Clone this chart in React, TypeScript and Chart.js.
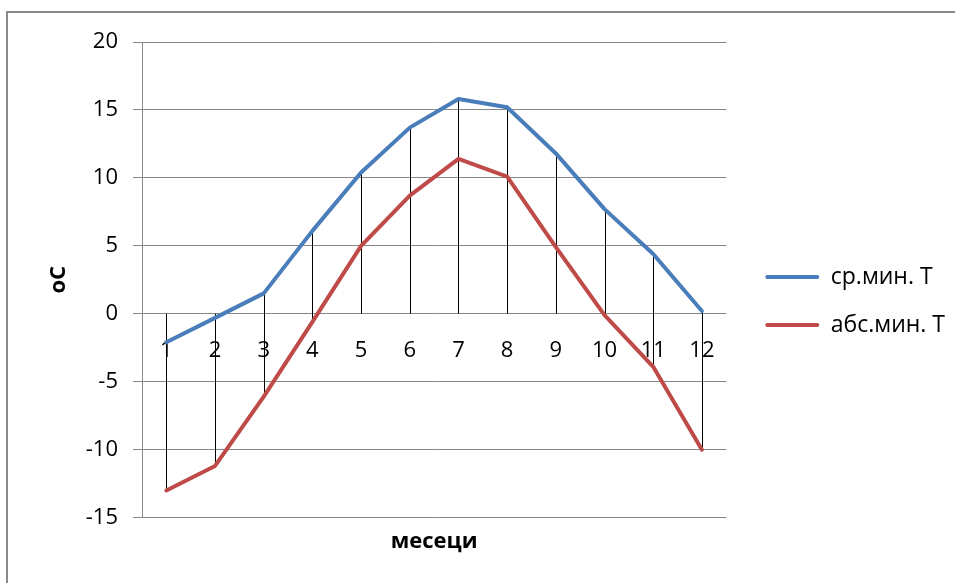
import React, { useEffect, useRef } from "react";
import { Chart, registerables } from "chart.js";

Chart.register(...registerables);

const months = ["1", "2", "3", "4", "5", "6", "7", "8", "9", "10", "11", "12"];
const avgMinT = [-2.1, -0.3, 1.5, 6.1, 10.4, 13.7, 15.8, 15.2, 11.8, 7.7, 4.4, 0.2];
const absMinT = [-13.0, -11.2, -6.1, -0.6, 5.0, 8.7, 11.4, 10.1, 4.9, -0.1, -3.9, -10.0];
const seriesNames = ["ср.мин. Т", "абс.мин. Т"];
const yTickMin = -15;
const yTickMax = 20;
const yTickStep = 5;
const yTitle = "оС";
const xTitle = "месеци";

const BLUE = "#4A7EBB";
const RED = "#BE4B48";
const GRID = "#868686";
const FONT = "'Open Sans', sans-serif";

const framePlugin = {
  id: "frame",
  beforeDraw(chart: any) {
    const ctx = chart.ctx;
    ctx.save();
    ctx.fillStyle = "#ffffff";
    ctx.fillRect(0, 0, chart.width, chart.height);
    ctx.strokeStyle = "#8a8a8a";
    ctx.lineWidth = 2;
    ctx.beginPath();
    ctx.moveTo(7, chart.height + 5);
    ctx.lineTo(7, 12);
    ctx.lineTo(chart.width + 5, 12);
    ctx.stroke();
    ctx.restore();
  },
};

const legendShiftPlugin = {
  id: "legendShift",
  afterLayout(chart: any) {
    const lg = chart.legend;
    if (lg) {
      lg.left += 14;
      lg.right += 14;
    }
  },
};

const dropLinesPlugin = {
  id: "dropLines",
  beforeDatasetsDraw(chart: any) {
    const ctx = chart.ctx;
    const xs = chart.scales.x;
    const ys = chart.scales.y;
    const sets = chart.data.datasets;
    ctx.save();
    ctx.strokeStyle = "#000000";
    ctx.lineWidth = 1;
    for (let i = 0; i < months.length; i++) {
      const vals = sets.map((d: any) => d.data[i] as number);
      const hi = Math.max(0, ...vals);
      const lo = Math.min(0, ...vals);
      const px = Math.round(xs.getPixelForValue(i)) + 0.5;
      ctx.beginPath();
      ctx.moveTo(px, ys.getPixelForValue(hi));
      ctx.lineTo(px, ys.getPixelForValue(lo));
      ctx.stroke();
    }
    ctx.restore();
  },
};

export default function App() {
  const ref = useRef<HTMLCanvasElement | null>(null);

  useEffect(() => {
    if (!ref.current) return;
    Chart.defaults.font.family = FONT;
    Chart.defaults.color = "#000000";
    const chart = new Chart(ref.current, {
      type: "line",
      data: {
        labels: months,
        datasets: [
          {
            label: seriesNames[0],
            data: avgMinT,
            borderColor: BLUE,
            backgroundColor: BLUE,
            borderWidth: 4,
            pointRadius: 0,
            borderJoinStyle: "round",
            borderCapStyle: "round",
            tension: 0,
            xAxisID: "x",
            yAxisID: "y",
          },
          {
            label: seriesNames[1],
            data: absMinT,
            borderColor: RED,
            backgroundColor: RED,
            borderWidth: 4,
            pointRadius: 0,
            borderJoinStyle: "round",
            borderCapStyle: "round",
            tension: 0,
            xAxisID: "x",
            yAxisID: "y",
          },
        ],
      },
      options: {
        animation: false,
        responsive: false,
        maintainAspectRatio: false,
        layout: { padding: { left: 0, top: 42, right: 14, bottom: 23 } },
        plugins: {
          tooltip: { enabled: false },
          title: { display: false },
          legend: {
            display: true,
            position: "right",
            labels: {
              boxWidth: 54,
              boxHeight: 4,
              padding: 25,
              useBorderRadius: true,
              borderRadius: 2,
              font: { size: 23, family: FONT },
              color: "#000000",
              generateLabels: (ch: any) =>
                Chart.defaults.plugins.legend.labels
                  .generateLabels(ch)
                  .map((it: any) => ({ ...it, lineWidth: 0, fillStyle: it.strokeStyle })),
            },
          },
        },
        scales: {
          x: {
            type: "category",
            offset: true,
            position: { y: 0 } as any,
            grid: { display: false, drawTicks: false },
            border: { display: false },
            ticks: { padding: 24, font: { size: 22, family: FONT }, color: "#000000" },
          },
          x2: {
            type: "category",
            position: "bottom",
            offset: true,
            grid: { display: false, drawTicks: false },
            border: { display: false },
            ticks: { display: false },
            title: {
              display: true,
              text: xTitle,
              font: { size: 22, weight: "bold", family: FONT },
              color: "#000000",
              padding: { top: 11, bottom: 5 },
            },
          },
          y: {
            type: "linear",
            position: "left",
            min: yTickMin,
            max: yTickMax,
            ticks: {
              stepSize: yTickStep,
              padding: 15,
              font: { size: 22, family: FONT },
              color: "#000000",
            },
            grid: { color: GRID, lineWidth: 1, tickLength: 9, tickColor: GRID },
            border: { display: true, color: GRID, width: 1 },
            title: {
              display: true,
              text: yTitle,
              font: { size: 22, weight: "bold", family: FONT },
              color: "#000000",
              padding: { top: 46, bottom: 0 },
            },
            afterFit: (s: any) => {
              s.width = 142;
            },
          },
        },
      },
      plugins: [framePlugin, legendShiftPlugin, dropLinesPlugin],
    } as any);
    return () => chart.destroy();
  }, []);

  return (
    <div style={{ position: "absolute", left: 0, top: 0, width: 955, height: 583, background: "#fff" }}>
      <canvas ref={ref} width={955} height={583} style={{ display: "block", width: 955, height: 583 }} />
    </div>
  );
}
